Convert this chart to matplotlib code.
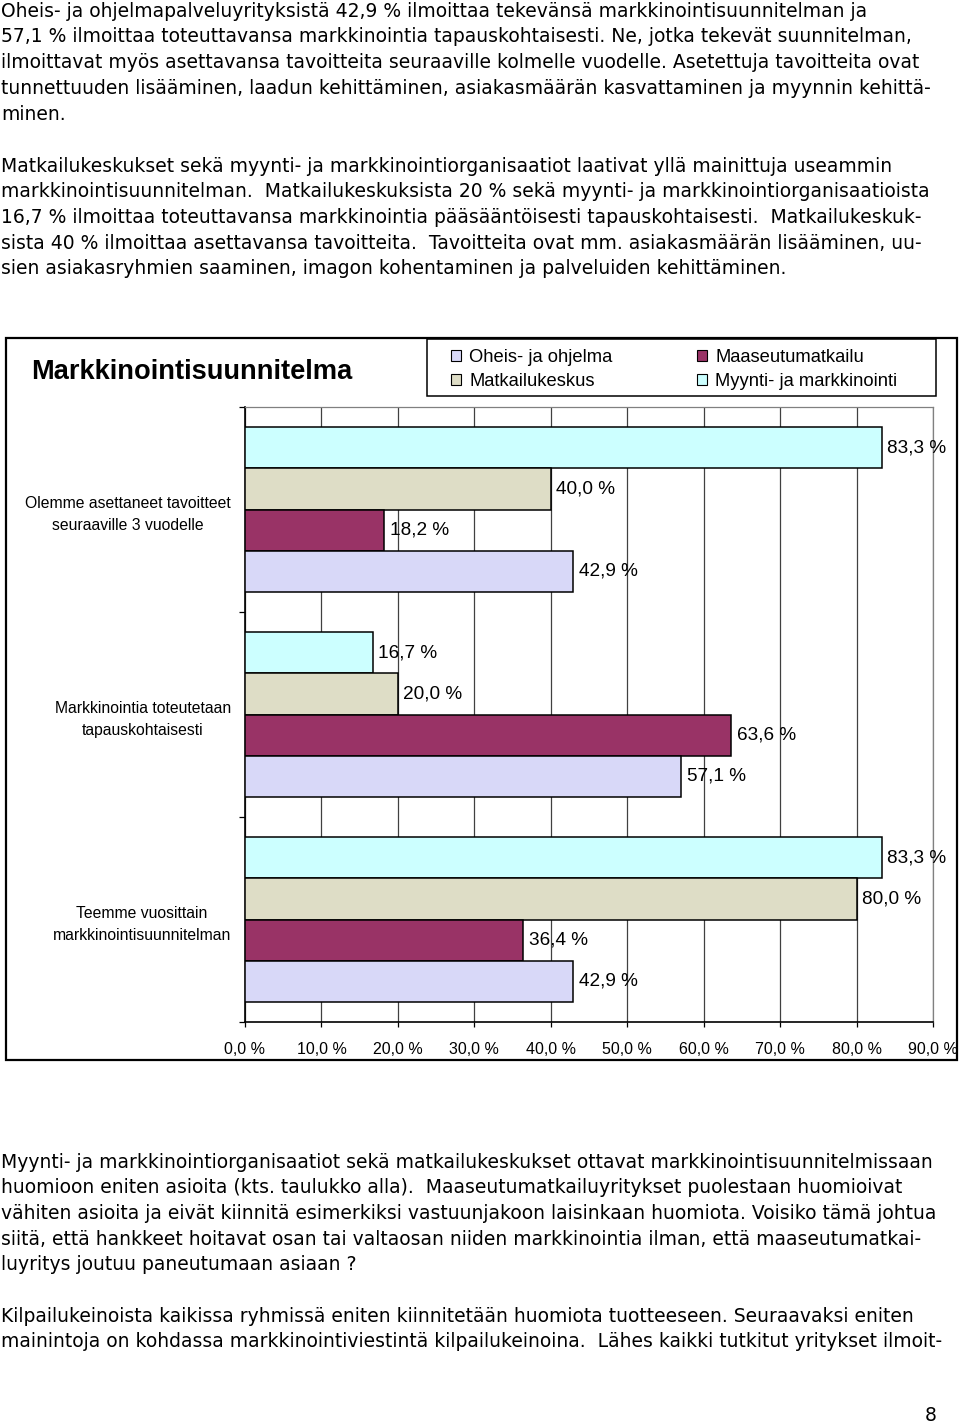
import matplotlib
matplotlib.use("Agg")
import matplotlib.pyplot as plt
from matplotlib import font_manager
from matplotlib.patches import Rectangle, Patch
from matplotlib.ticker import FuncFormatter, FixedLocator
from matplotlib.transforms import Bbox, TransformedBbox

W, H = 960, 1427

# chart data
categories = ["Olemme asettaneet tavoitteet\nseuraaville 3 vuodelle",
              "Markkinointia toteutetaan\ntapauskohtaisesti",
              "Teemme vuosittain\nmarkkinointisuunnitelman"]
series_names = ["Oheis- ja ohjelma", "Matkailukeskus",
                "Maaseutumatkailu", "Myynti- ja markkinointi"]
oheis = [42.9, 57.1, 42.9]
matkailu = [40.0, 20.0, 80.0]
maaseutu = [18.2, 63.6, 36.4]
myynti = [83.3, 16.7, 83.3]
x_ticks = [0, 10, 20, 30, 40, 50, 60, 70, 80, 90]
chart_title = "Markkinointisuunnitelma"

colors = {"oheis": "#d8d8f8", "matkailu": "#deddc6",
          "maaseutu": "#993366", "myynti": "#ccffff"}

# page text, line by line as in the document
para1 = ["Oheis- ja ohjelmapalveluyrityksistä 42,9 % ilmoittaa tekevänsä markkinointisuunnitelman ja",
         "57,1 % ilmoittaa toteuttavansa markkinointia tapauskohtaisesti. Ne, jotka tekevät suunnitelman,",
         "ilmoittavat myös asettavansa tavoitteita seuraaville kolmelle vuodelle. Asetettuja tavoitteita ovat",
         "tunnettuuden lisääminen, laadun kehittäminen, asiakasmäärän kasvattaminen ja myynnin kehittä-",
         "minen."]
para2 = ["Matkailukeskukset sekä myynti- ja markkinointiorganisaatiot laativat yllä mainittuja useammin",
         "markkinointisuunnitelman.  Matkailukeskuksista 20 % sekä myynti- ja markkinointiorganisaatioista",
         "16,7 % ilmoittaa toteuttavansa markkinointia pääsääntöisesti tapauskohtaisesti.  Matkailukeskuk-",
         "sista 40 % ilmoittaa asettavansa tavoitteita.  Tavoitteita ovat mm. asiakasmäärän lisääminen, uu-",
         "sien asiakasryhmien saaminen, imagon kohentaminen ja palveluiden kehittäminen."]
para3 = ["Myynti- ja markkinointiorganisaatiot sekä matkailukeskukset ottavat markkinointisuunnitelmissaan",
         "huomioon eniten asioita (kts. taulukko alla).  Maaseutumatkailuyritykset puolestaan huomioivat",
         "vähiten asioita ja eivät kiinnitä esimerkiksi vastuunjakoon laisinkaan huomiota. Voisiko tämä johtua",
         "siitä, että hankkeet hoitavat osan tai valtaosan niiden markkinointia ilman, että maaseutumatkai-",
         "luyritys joutuu paneutumaan asiaan ?"]
para4 = ["Kilpailukeinoista kaikissa ryhmissä eniten kiinnitetään huomiota tuotteeseen. Seuraavaksi eniten",
         "mainintoja on kohdassa markkinointiviestintä kilpailukeinoina.  Lähes kaikki tutkitut yritykset ilmoit-"]
page_no = "8"


def fx(px):
    return px / W


def fy(py):
    return 1 - py / H


def pct(v, pos=None):
    return f"{v:.1f} %".replace(".", ",")


installed = {f.name for f in font_manager.fontManager.ttflist}
chart_font = "Liberation Sans" if "Liberation Sans" in installed else "DejaVu Sans"
title_font = "Liberation Sans Narrow" if "Liberation Sans Narrow" in installed else chart_font
body_font = "DejaVu Sans"

fig = plt.figure(figsize=(W / 100, H / 100), dpi=100)
renderer = fig.canvas.get_renderer()


def fit_size(text, family, target, weight="normal"):
    t = fig.text(0, 0, text, family=family, size=12, weight=weight)
    w = t.get_window_extent(renderer).width
    t.remove()
    return 12 * target / w


# ---- body text ----
body_size = fit_size(para1[0], body_font, 866)
for lines, y0 in [(para1, 16.7), (para2, 171.7), (para3, 1167.5), (para4, 1321.5)]:
    for i, line in enumerate(lines):
        fig.text(fx(1), fy(y0 + i * 25.7), line, family=body_font, size=body_size,
                 va="baseline", ha="left")
fig.text(fx(937), fy(1421), page_no, family=body_font, size=body_size,
         va="baseline", ha="right")

# ---- chart frame, title, legend ----
fig.patches.append(Rectangle((fx(6), fy(1060)), fx(957) - fx(6), (1060 - 338) / H,
                             transform=fig.transFigure, fill=False, lw=1.6, ec="black"))
fig.patches.append(Rectangle((fx(427), fy(396)), fx(936) - fx(427), (396 - 339) / H,
                             transform=fig.transFigure, fill=False, lw=1.1, ec="black"))

title_size = fit_size(chart_title, title_font, 318, weight="bold")
fig.text(fx(31), fy(379), chart_title, family=title_font, weight="bold",
         size=title_size, va="baseline")

handles = [Patch(facecolor=colors[k], edgecolor="black", lw=0.8, label=n)
           for k, n in zip(["oheis", "matkailu", "maaseutu", "myynti"], series_names)]
fig.legend(handles=handles, ncol=2, loc="upper left", bbox_to_anchor=(fx(451), fy(349)),
           frameon=False, prop={"family": chart_font, "size": 13.2},
           handlelength=0.55, handleheight=0.55, handletextpad=0.45,
           columnspacing=4.6, labelspacing=0.36, borderpad=0, borderaxespad=0)

# ---- bars ----
ax = fig.add_axes([fx(245), fy(1022), fx(933) - fx(245), (1022 - 407) / H])
h = 0.2012
pos = list(range(len(categories)))
# top to bottom inside each group
stack = [(myynti, "myynti", -1.5), (matkailu, "matkailu", -0.5),
         (maaseutu, "maaseutu", 0.5), (oheis, "oheis", 1.5)]
for vals, key, off in stack:
    bars = ax.barh([p + off * h for p in pos], vals, height=h, color=colors[key],
                   edgecolor="black", linewidth=1.1, zorder=3)
    ax.bar_label(bars, labels=[pct(v) for v in vals], padding=4,
                 fontsize=13.7, family=chart_font)

ax.set_xlim(0, 90)
ax.set_ylim(2.5, -0.5)
ax.set_xticks(x_ticks)
ax.xaxis.set_major_formatter(FuncFormatter(pct))
ax.set_yticks(pos)
ax.set_yticklabels(categories, family=chart_font, fontsize=11.3,
                   multialignment="center", linespacing=1.6)
ax.yaxis.set_minor_locator(FixedLocator([-0.5, 0.5, 1.5, 2.5]))
ax.tick_params(axis="y", which="major", length=0, pad=10)
ax.tick_params(axis="y", which="minor", length=4.3, width=0.9, direction="out")
ax.tick_params(axis="x", length=3.6, width=0.9, direction="out", pad=11, labelsize=11.5)
for lbl in ax.get_xticklabels():
    lbl.set_family(chart_font)

ax.xaxis.grid(True, color="#404040", lw=0.9, zorder=0)
ax.set_axisbelow(True)
for side in ["left", "bottom"]:
    ax.spines[side].set_color("black")
    ax.spines[side].set_linewidth(1.2)
for side in ["top", "right"]:
    ax.spines[side].set_color("#808080")
    ax.spines[side].set_linewidth(0.9)

clip = TransformedBbox(Bbox.from_extents(fx(6), fy(1060), fx(956), fy(338)), fig.transFigure)
for lbl in ax.get_xticklabels():
    lbl.set_clip_box(clip)
    lbl.set_clip_on(True)

fig.savefig("out.png", dpi=100)
